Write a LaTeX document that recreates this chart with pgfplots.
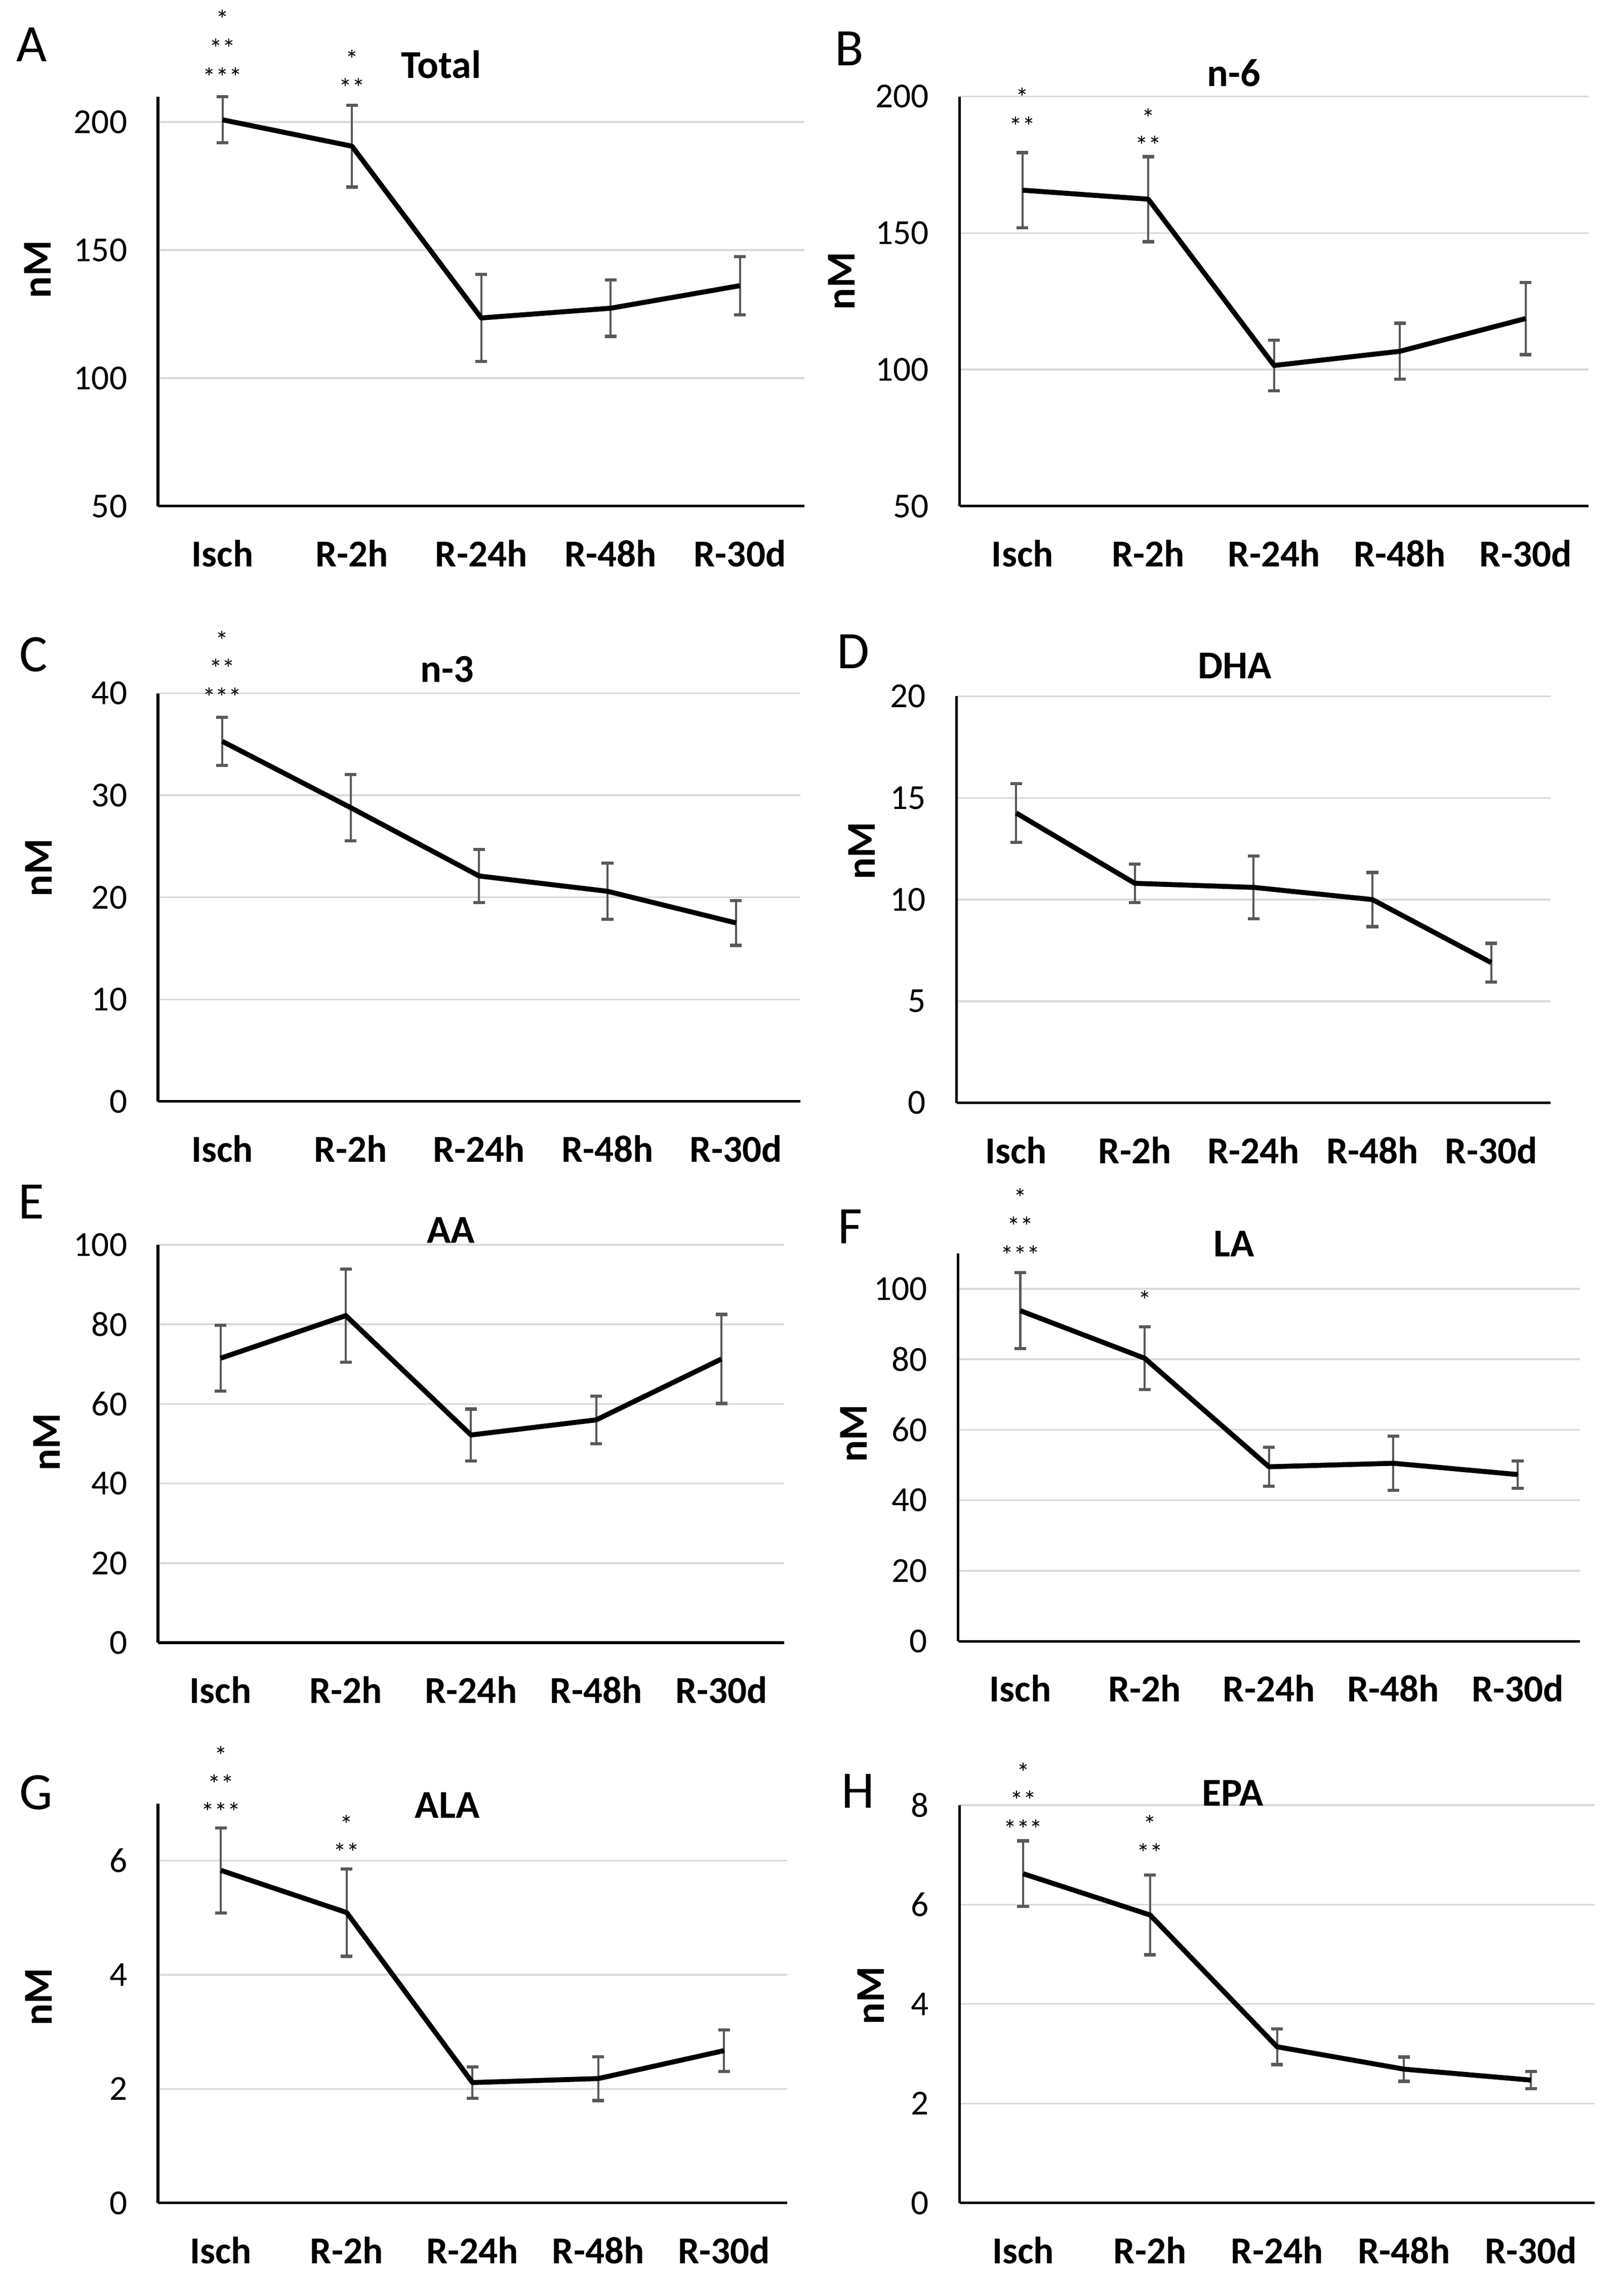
\documentclass[border=0pt]{standalone}
\usepackage{pgfplots}
\pgfplotsset{compat=1.18}
\usepackage{fontspec}
\setmainfont{Carlito}
\definecolor{errgray}{HTML}{595959}
\definecolor{gridgray}{HTML}{D9D9D9}

\pgfplotsset{
  panel/.style={
    scale only axis, clip=false, anchor=south west,
    xmin=-0.5, xmax=4.5,
    xtick={0,1,2,3,4},
    xticklabels={Isch,R-2h,R-24h,R-48h,R-30d},
    axis x line*=bottom, axis y line*=left,
    axis line style={black, line width=0.9pt},
    ymajorgrids, grid style={gridgray, line width=0.6pt},
    major tick length=0pt,
    /pgf/number format/assume math mode=true,
    yticklabel style={font=\fontsize{12}{12}\selectfont, xshift=-7pt},
    xticklabel style={font=\bfseries\fontsize{13}{14}\selectfont, yshift=-8pt},
  },
  ebar/.style={draw=none, mark=none, forget plot,
    error bars/.cd, y dir=both, y explicit,
    error bar style={errgray, line width=0.7pt},
    error mark options={errgray, rotate=90, line width=1.1pt, mark size=2pt}},
  mean/.style={black, line width=1.7pt, mark=none, line join=round},
}
\tikzset{
  ttl/.style={font=\bfseries\fontsize{13.5}{14}\selectfont},
  lett/.style={font=\fontsize{18}{20}\selectfont},
  ylab/.style={font=\bfseries\fontsize{14}{14}\selectfont, rotate=90},
  star/.style={font=\fontsize{9}{9}\selectfont, yshift=-1.2pt},
}

\begin{document}
\begin{tikzpicture}
\useasboundingbox (0,0) rectangle (555pt,779pt);

% A  Total
\begin{axis}[panel, at={(54pt,606pt)}, width=221pt, height=140pt,
  ymin=50, ymax=210, ytick={50,100,150,200}]
  \addplot[ebar] table[x=x,y=y,y error=e] {
    x y e
    0 200.9 9.0
    1 190.6 16.0
    2 123.5 17.0
    3 127.3 11.0
    4 136.1 11.4
  };
  \addplot[mean] table[x=x,y=y] {
    x y
    0 200.9
    1 190.6
    2 123.5
    3 127.3
    4 136.1
  };
  \node[ttl] at (axis cs:1.69,222.6) {Total};
  \node[lett] at (axis cs:-1.475,230.2) {A};
  \node[ylab] at (axis cs:-1.43,142.5) {nM};
  \node[star] at (axis cs:0,241.6) {*};
  \node[star] at (axis cs:0,230.2) {**};
  \node[star] at (axis cs:0,219.0) {***};
  \node[star] at (axis cs:1,226.0) {*};
  \node[star] at (axis cs:1,214.8) {**};
\end{axis}

% B  n-6
\begin{axis}[panel, at={(328pt,606pt)}, width=215pt, height=140pt,
  ymin=50, ymax=200, ytick={50,100,150,200}]
  \addplot[ebar] table[x=x,y=y,y error=e] {
    x y e
    0 165.7 13.75
    1 162.4 15.6
    2 101.5 9.25
    3 106.7 10.25
    4 118.7 13.2
  };
  \addplot[mean] table[x=x,y=y] {
    x y
    0 165.7
    1 162.4
    2 101.5
    3 106.7
    4 118.7
  };
  \node[ttl] at (axis cs:1.68,208.7) {n-6};
  \node[lett] at (axis cs:-1.375,217.6) {B};
  \node[ylab] at (axis cs:-1.44,132.4) {nM};
  \node[star] at (axis cs:0,201.0) {*};
  \node[star] at (axis cs:0,190.5) {**};
  \node[star] at (axis cs:1,193.5) {*};
  \node[star] at (axis cs:1,183.5) {**};
\end{axis}

% C  n-3
\begin{axis}[panel, at={(54pt,402.5pt)}, width=219.5pt, height=139.5pt,
  ymin=0, ymax=40, ytick={0,10,20,30,40}]
  \addplot[ebar] table[x=x,y=y,y error=e] {
    x y e
    0 35.3 2.35
    1 28.8 3.25
    2 22.1 2.6
    3 20.6 2.75
    4 17.5 2.2
  };
  \addplot[mean] table[x=x,y=y] {
    x y
    0 35.3
    1 28.8
    2 22.1
    3 20.6
    4 17.5
  };
  \node[ttl] at (axis cs:1.75,42.35) {n-3};
  \node[lett] at (axis cs:-1.47,43.8) {C};
  \node[ylab] at (axis cs:-1.43,22.9) {nM};
  \node[star] at (axis cs:0,45.55) {*};
  \node[star] at (axis cs:0,42.8) {**};
  \node[star] at (axis cs:0,40.0) {***};
\end{axis}

% D  DHA
\begin{axis}[panel, at={(327pt,402pt)}, width=203pt, height=139pt,
  ymin=0, ymax=20, ytick={0,5,10,15,20}]
  \addplot[ebar] table[x=x,y=y,y error=e] {
    x y e
    0 14.26 1.45
    1 10.8 0.95
    2 10.6 1.55
    3 10.0 1.33
    4 6.9 0.95
  };
  \addplot[mean] table[x=x,y=y] {
    x y
    0 14.26
    1 10.8
    2 10.6
    3 10.0
    4 6.9
  };
  \node[ttl] at (axis cs:1.84,21.5) {DHA};
  \node[lett] at (axis cs:-1.37,22.2) {D};
  \node[ylab] at (axis cs:-1.30,12.4) {nM};
\end{axis}

% E  AA
\begin{axis}[panel, at={(54pt,217.5pt)}, width=214pt, height=136pt,
  ymin=0, ymax=100, ytick={0,20,40,60,80,100}]
  \addplot[ebar] table[x=x,y=y,y error=e] {
    x y e
    0 71.5 8.25
    1 82.2 11.7
    2 52.2 6.5
    3 56.0 6.0
    4 71.3 11.2
  };
  \addplot[mean] table[x=x,y=y] {
    x y
    0 71.5
    1 82.2
    2 52.2
    3 56.0
    4 71.3
  };
  \node[ttl] at (axis cs:1.84,103.7) {AA};
  \node[lett] at (axis cs:-1.51,110.8) {E};
  \node[ylab] at (axis cs:-1.39,50.4) {nM};
\end{axis}

% F  LA
\begin{axis}[panel, at={(327.5pt,218pt)}, width=212.5pt, height=132.5pt,
  ymin=0, ymax=110, ytick={0,20,40,60,80,100}]
  \addplot[ebar] table[x=x,y=y,y error=e] {
    x y e
    0 93.8 10.75
    1 80.3 8.9
    2 49.5 5.5
    3 50.5 7.65
    4 47.3 3.9
  };
  \addplot[mean] table[x=x,y=y] {
    x y
    0 93.8
    1 80.3
    2 49.5
    3 50.5
    4 47.3
  };
  \node[ttl] at (axis cs:1.72,112.8) {LA};
  \node[lett] at (axis cs:-1.37,117.6) {F};
  \node[ylab] at (axis cs:-1.34,59.0) {nM};
  \node[star] at (axis cs:0,126.8) {*};
  \node[star] at (axis cs:0,118.8) {**};
  \node[star] at (axis cs:0,110.6) {***};
  \node[star] at (axis cs:1,97.9) {*};
\end{axis}

% G  ALA
\begin{axis}[panel, at={(54pt,26pt)}, width=215pt, height=136.5pt,
  ymin=0, ymax=7, ytick={0,2,4,6}]
  \addplot[ebar] table[x=x,y=y,y error=e] {
    x y e
    0 5.83 0.745
    1 5.09 0.765
    2 2.11 0.275
    3 2.18 0.385
    4 2.67 0.365
  };
  \addplot[mean] table[x=x,y=y] {
    x y
    0 5.83
    1 5.09
    2 2.11
    3 2.18
    4 2.67
  };
  \node[ttl] at (axis cs:1.80,6.97) {ALA};
  \node[lett] at (axis cs:-1.47,7.19) {G};
  \node[ylab] at (axis cs:-1.45,3.61) {nM};
  \node[star] at (axis cs:0,7.90) {*};
  \node[star] at (axis cs:0,7.41) {**};
  \node[star] at (axis cs:0,6.92) {***};
  \node[star] at (axis cs:1,6.70) {*};
  \node[star] at (axis cs:1,6.21) {**};
\end{axis}

% H  EPA
\begin{axis}[panel, at={(328pt,26pt)}, width=217pt, height=136pt,
  ymin=0, ymax=8, ytick={0,2,4,6,8}]
  \addplot[ebar] table[x=x,y=y,y error=e] {
    x y e
    0 6.62 0.66
    1 5.79 0.80
    2 3.14 0.36
    3 2.69 0.245
    4 2.47 0.175
  };
  \addplot[mean] table[x=x,y=y] {
    x y
    0 6.62
    1 5.79
    2 3.14
    3 2.69
    4 2.47
  };
  \node[ttl] at (axis cs:1.65,8.24) {EPA};
  \node[lett] at (axis cs:-1.30,8.28) {H};
  \node[ylab] at (axis cs:-1.20,4.17) {nM};
  \node[star] at (axis cs:0,8.73) {*};
  \node[star] at (axis cs:0,8.17) {**};
  \node[star] at (axis cs:0,7.59) {***};
  \node[star] at (axis cs:1,7.68) {*};
  \node[star] at (axis cs:1,7.11) {**};
\end{axis}
\end{tikzpicture}
\end{document}
